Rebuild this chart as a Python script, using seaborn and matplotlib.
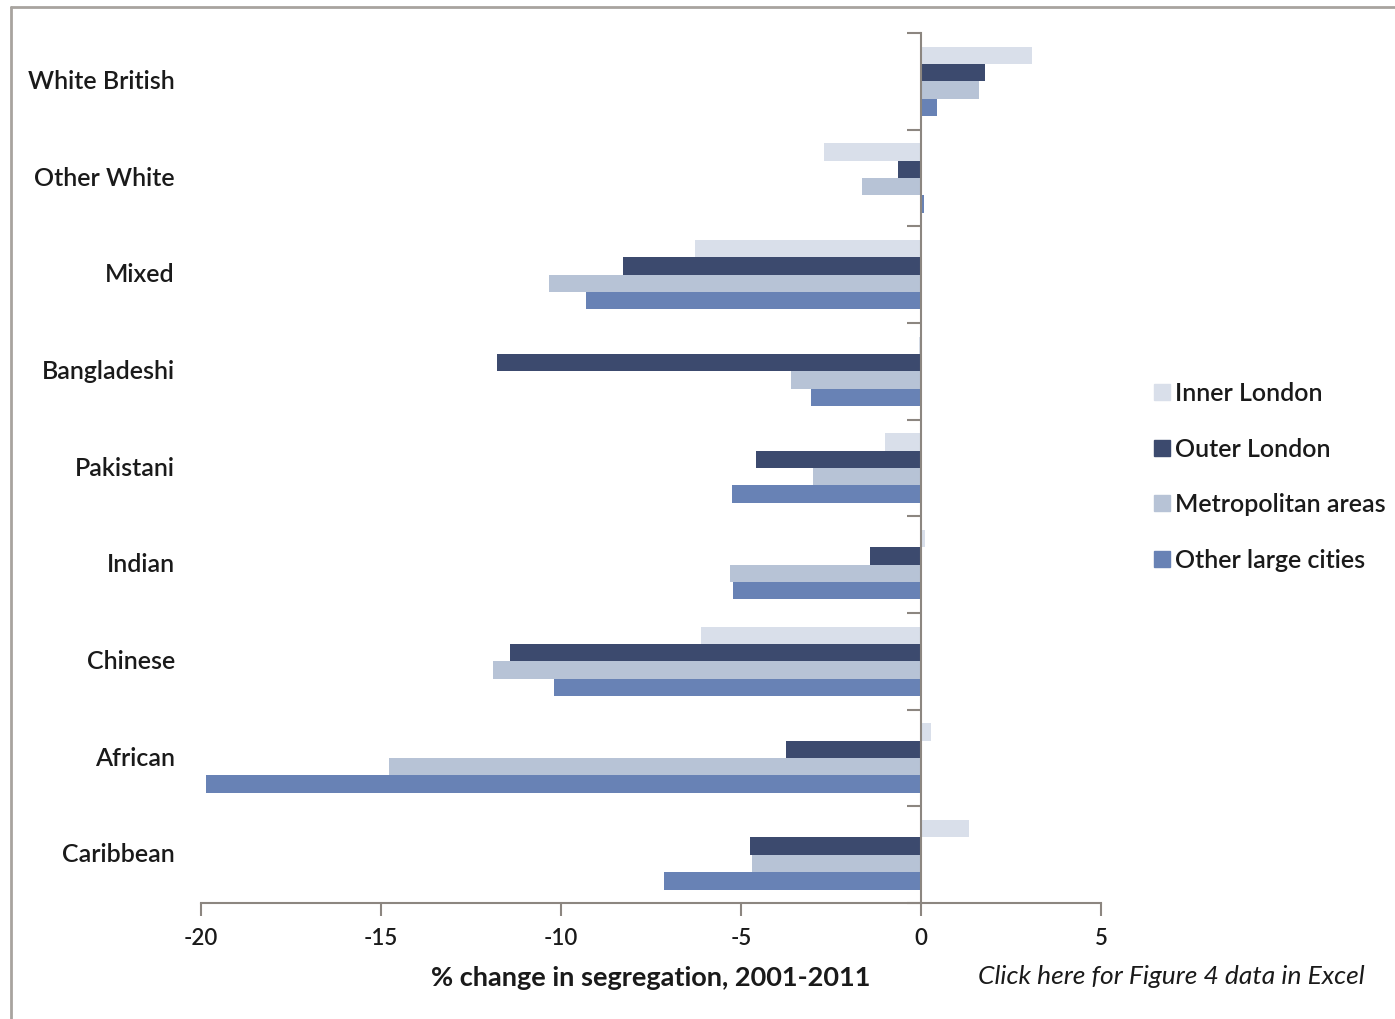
import matplotlib
matplotlib.use("Agg")
import matplotlib.pyplot as plt
import matplotlib.transforms as mtransforms
from matplotlib.lines import Line2D
import seaborn as sns
import pandas as pd

# Ethnic groups, top to bottom
groups = ["White British", "Other White", "Mixed", "Bangladeshi", "Pakistani",
          "Indian", "Chinese", "African", "Caribbean"]

# % change in segregation 2001-2011 by area type
inner_london = [3.07, -2.69, -6.27, -0.05, -0.99, 0.10, -6.10, 0.27, 1.34]
outer_london = [1.77, -0.65, -8.27, -11.79, -4.58, -1.42, -11.43, -3.75, -4.74]
metropolitan = [1.62, -1.65, -10.33, -3.62, -2.99, -5.31, -11.89, -14.77, -4.70]
other_cities = [0.45, 0.08, -9.31, -3.06, -5.26, -5.21, -10.20, -19.86, -7.13]

areas = ["Inner London", "Outer London", "Metropolitan areas", "Other large cities"]
area_colors = ["#d9dfea", "#3c4a6e", "#b7c3d6", "#6882b5"]

x_ticks = [-20, -15, -10, -5, 0, 5]

rows = []
for area, vals in zip(areas, [inner_london, outer_london, metropolitan, other_cities]):
    for g, v in zip(groups, vals):
        rows.append({"group": g, "area": area, "change": v})
df = pd.DataFrame(rows)

sns.set_theme(style="white")
plt.rcParams["font.family"] = ["Lato", "DejaVu Sans"]

text_color = "#1a1a1a"
fig = plt.figure(figsize=(13.95, 10.19), dpi=100)
ax = fig.add_axes([0.1441, 0.1138, 0.6452, 0.8538])

sns.barplot(data=df, x="change", y="group", hue="area", order=groups,
            hue_order=areas, palette=area_colors, orient="h",
            width=0.72, gap=0, ax=ax, saturation=1, legend=False,
            errorbar=None, linewidth=0)

ax.set_xlim(-20, 5)
ax.set_ylim(8.5, -0.5)

spine_color = "#8c8680"
for side in ["top", "right"]:
    ax.spines[side].set_visible(False)
ax.spines["left"].set_position(("data", 0))
ax.spines["left"].set_color(spine_color)
ax.spines["left"].set_linewidth(1.5)
ax.spines["bottom"].set_color(spine_color)
ax.spines["bottom"].set_linewidth(1.5)

# Category boundaries as tick marks on the zero line
ax.set_yticks([i - 0.5 for i in range(len(groups) + 1)])
ax.set_yticklabels([])
ax.tick_params(axis="y", which="major", direction="out", length=10,
               width=1.5, color=spine_color, left=True)

ax.set_xticks(x_ticks)
ax.set_xticklabels([str(t) for t in x_ticks], fontsize=16, color=text_color,
                   fontweight="semibold")
ax.tick_params(axis="x", direction="out", length=9, width=1.5,
               color=spine_color, bottom=True, pad=9)

ax.set_ylabel("")
ax.set_xlabel("% change in segregation, 2001-2011", fontsize=19.5,
              fontweight="bold", color=text_color, labelpad=12)

# Group names at the left of the plot area
trans = mtransforms.blended_transform_factory(ax.transAxes, ax.transData)
for i, g in enumerate(groups):
    ax.text(-0.029, i, g, transform=trans, ha="right", va="center",
            fontsize=18, fontweight="semibold", color=text_color)

# Legend on the right
handles = [Line2D([], [], marker="s", linestyle="none", markersize=11.5,
                  markerfacecolor=c, markeredgecolor=c) for c in area_colors]
leg = fig.legend(handles, areas, loc="center left",
                 bbox_to_anchor=(0.810, 0.532), frameon=False,
                 fontsize=18, labelspacing=1.3, handletextpad=0.1,
                 handlelength=0.8)
for t in leg.get_texts():
    t.set_fontweight("semibold")
    t.set_color(text_color)

fig.text(0.978, 0.042, "Click here for Figure 4 data in Excel", ha="right",
         va="center", fontsize=19, style="italic", color=text_color)

# Outer frame
frame_kw = dict(color="#a8a49f", linewidth=2, transform=fig.transFigure)
fig.add_artist(Line2D([0.0079, 0.0079], [0.0, 0.9931], **frame_kw))
fig.add_artist(Line2D([0.0079, 1.0], [0.9931, 0.9931], **frame_kw))

fig.savefig("out.png", dpi=100)
